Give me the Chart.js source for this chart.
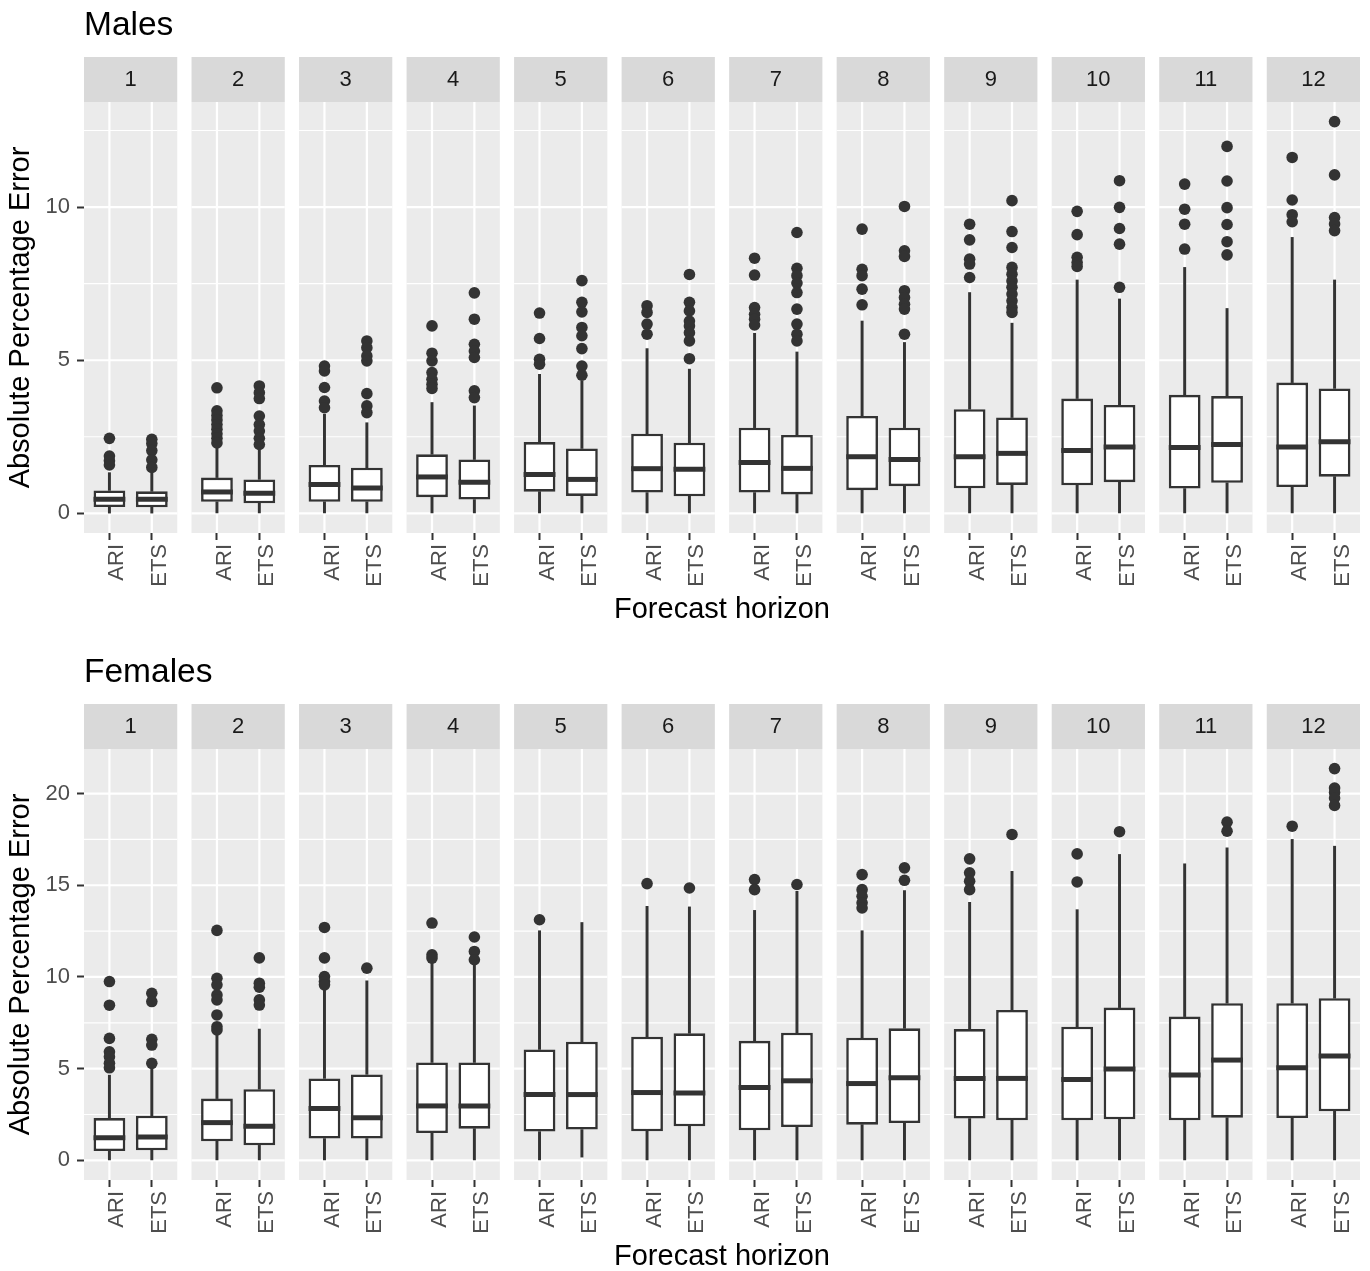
<!DOCTYPE html>
<html>
<head>
<meta charset="utf-8">
<script src="https://cdn.jsdelivr.net/npm/chart.js@4.4.1/dist/chart.umd.min.js"></script>
<style>
  html, body { margin: 0; padding: 0; background: #ffffff; overflow: hidden; }
  canvas { position: absolute; left: 0; }
  #males { top: 0; }
  #females { top: 647px; }
</style>
</head>
<body>
<canvas id="males" width="1370" height="647"></canvas>
<canvas id="females" width="1370" height="647"></canvas>
<script>
// Forecast horizons (facets) and the two methods compared in each facet
const HORIZONS = [1, 2, 3, 4, 5, 6, 7, 8, 9, 10, 11, 12];
const METHODS = ['ARI', 'ETS'];

// Box statistics per horizon: [lower whisker, Q1, median, Q3, upper whisker]
const MALES_ARI = [
  [0.01, 0.21, 0.46, 0.75, 1.33], [0.0, 0.38, 0.70, 1.17, 2.15], [0.0, 0.38, 0.94, 1.58, 3.24],
  [0.0, 0.53, 1.19, 1.93, 3.62], [0.0, 0.71, 1.27, 2.33, 4.54], [0.0, 0.68, 1.46, 2.60, 5.38],
  [0.0, 0.68, 1.66, 2.80, 5.88], [0.0, 0.76, 1.85, 3.18, 6.28], [0.0, 0.82, 1.85, 3.40, 7.21],
  [0.0, 0.92, 2.05, 3.75, 7.62], [0.0, 0.81, 2.15, 3.87, 8.03], [0.0, 0.86, 2.17, 4.27, 9.01]
];
const MALES_ETS = [
  [0.01, 0.20, 0.46, 0.72, 1.33], [0.0, 0.33, 0.66, 1.11, 2.15], [0.0, 0.38, 0.83, 1.49, 2.96],
  [0.0, 0.45, 1.02, 1.76, 3.51], [0.0, 0.57, 1.11, 2.12, 4.32], [0.0, 0.56, 1.44, 2.31, 4.71],
  [0.0, 0.62, 1.47, 2.56, 5.27], [0.0, 0.89, 1.76, 2.80, 5.58], [0.0, 0.93, 1.96, 3.13, 6.21],
  [0.0, 1.02, 2.17, 3.54, 7.00], [0.0, 1.00, 2.25, 3.83, 6.69], [0.0, 1.20, 2.34, 4.08, 7.62]
];
// Outlying observations per horizon
const MALES_ARI_OUT = [
  [2.45, 1.87, 1.72, 1.58],
  [4.1, 3.35, 3.2, 3.05, 2.9, 2.75, 2.6, 2.45, 2.3],
  [4.81, 4.65, 4.11, 3.67, 3.45],
  [6.12, 5.23, 4.98, 4.6, 4.38, 4.22, 4.08],
  [6.54, 5.71, 5.03, 4.87],
  [6.78, 6.56, 6.18, 5.85],
  [8.33, 7.78, 6.72, 6.5, 6.34, 6.15],
  [9.28, 7.97, 7.76, 7.32, 6.81],
  [9.44, 8.93, 8.3, 8.14, 7.7],
  [9.86, 9.1, 8.36, 8.19, 8.06],
  [10.75, 9.93, 9.44, 8.63],
  [11.62, 10.23, 9.75, 9.52]
];
const MALES_ETS_OUT = [
  [2.42, 2.28, 2.05, 1.75, 1.5],
  [4.16, 3.94, 3.75, 3.18, 2.9, 2.69, 2.45, 2.25],
  [5.63, 5.41, 5.14, 4.98, 3.91, 3.51, 3.29],
  [7.2, 6.34, 5.52, 5.3, 5.09, 4.0, 3.78],
  [7.6, 6.89, 6.58, 6.07, 5.8, 5.38, 4.81, 4.51],
  [7.8, 6.89, 6.61, 6.28, 6.12, 5.9, 5.63, 5.05],
  [9.17, 8.0, 7.76, 7.52, 7.21, 6.67, 6.18, 5.85, 5.63],
  [10.02, 8.57, 8.39, 7.27, 7.05, 6.83, 6.67, 5.85],
  [10.21, 9.2, 8.68, 8.03, 7.81, 7.59, 7.38, 7.16, 6.94, 6.72, 6.56],
  [10.86, 9.99, 9.3, 8.79, 7.38],
  [11.98, 10.85, 9.98, 9.43, 8.87, 8.44],
  [12.79, 11.05, 9.66, 9.45, 9.23]
];

const FEMALES_ARI = [
  [0.0, 0.51, 1.24, 2.31, 4.65], [0.0, 1.04, 2.06, 3.37, 6.83], [0.0, 1.19, 2.83, 4.47, 9.29],
  [0.0, 1.49, 2.97, 5.34, 10.75], [0.0, 1.57, 3.59, 6.05, 12.52], [0.0, 1.59, 3.70, 6.74, 13.85],
  [0.0, 1.64, 3.97, 6.52, 13.63], [0.0, 1.95, 4.19, 6.69, 12.52], [0.0, 2.28, 4.47, 7.16, 14.07],
  [0.0, 2.19, 4.41, 7.29, 13.67], [0.0, 2.19, 4.65, 7.84, 16.17], [0.0, 2.31, 5.05, 8.57, 17.50]
];
const FEMALES_ETS = [
  [0.0, 0.55, 1.28, 2.44, 5.01], [0.0, 0.82, 1.86, 3.88, 7.16], [0.0, 1.19, 2.33, 4.69, 9.79],
  [0.0, 1.73, 2.97, 5.34, 10.66], [0.18, 1.68, 3.59, 6.47, 12.97], [0.0, 1.86, 3.68, 6.93, 13.82],
  [0.0, 1.82, 4.34, 6.96, 14.67], [0.0, 2.04, 4.50, 7.20, 14.71], [0.0, 2.19, 4.47, 8.20, 15.76],
  [0.0, 2.24, 4.98, 8.33, 16.68], [0.0, 2.33, 5.47, 8.57, 17.04], [0.0, 2.68, 5.69, 8.84, 17.13]
];
const FEMALES_ARI_OUT = [
  [9.75, 8.46, 6.65, 5.92, 5.65, 5.3, 5.05],
  [12.54, 9.93, 9.57, 9.02, 8.75, 7.93, 7.29, 7.11],
  [12.7, 11.04, 10.02, 9.75, 9.57],
  [12.94, 11.21, 11.03],
  [13.12],
  [15.09],
  [15.31, 14.76],
  [15.58, 14.76, 14.4, 14.04, 13.76],
  [16.44, 15.68, 15.22, 14.76],
  [16.71, 15.18],
  [],
  [18.22]
];
const FEMALES_ETS_OUT = [
  [9.11, 8.66, 6.6, 6.29, 5.29],
  [11.04, 9.66, 9.44, 8.75, 8.47],
  [10.48],
  [12.18, 11.39, 10.94],
  [],
  [14.85],
  [15.04],
  [15.95, 15.27],
  [17.77],
  [17.92],
  [18.44, 17.95],
  [21.36, 20.3, 20.05, 19.75, 19.35]
];

const MALES_Y_TICKS = [0, 5, 10];
const FEMALES_Y_TICKS = [0, 5, 10, 15, 20];

// Layout of the facet strip along the shared x scale:
// each facet spans 2.2 units (two boxes at 1 and 2 with 0.6 expansion), facets are STEP apart.
const STEP = 2.537;
const BOX_WIDTH = 0.75;
const FONT = '"Liberation Sans", Arial, Helvetica, sans-serif';
const INK = '#333333';

function boxX(k, j) { return k * STEP + 1 + j; }

function buildPanel(canvasId, title, ariStats, etsStats, ariOut, etsOut, yTicks) {
  const stats = [ariStats, etsStats];
  const outs = [ariOut, etsOut];
  const boxes = [], whiskers = [], medians = [], outliers = [], tickPos = [];
  let lo = Infinity, hi = -Infinity;

  HORIZONS.forEach((h, k) => {
    METHODS.forEach((m, j) => {
      const [wLo, q1, med, q3, wHi] = stats[j][k];
      const x = boxX(k, j);
      tickPos.push(x);
      boxes.push({ x, y: [q1, q3] });
      whiskers.push({ x, y: [wLo, q1] }, { x, y: [q3, wHi] });
      medians.push({ x, y: med });
      outs[j][k].forEach(v => outliers.push({ x, y: v }));
      lo = Math.min(lo, wLo, ...outs[j][k]);
      hi = Math.max(hi, wHi, ...outs[j][k]);
    });
  });
  const expand = (hi - lo) * 0.05;
  const yMin = lo - expand, yMax = hi + expand;

  const facetPlugin = {
    id: 'facets',
    beforeDatasetsDraw(chart) {
      const { ctx, chartArea: a, scales: { x, y } } = chart;
      const step = yTicks[1] - yTicks[0];
      const minor = [];
      yTicks.forEach(t => {
        [t - step / 2, t + step / 2].forEach(v => {
          if (v > yMin && v < yMax && !minor.includes(v)) minor.push(v);
        });
      });
      ctx.save();
      HORIZONS.forEach((h, k) => {
        const left = x.getPixelForValue(k * STEP + 0.4);
        const right = x.getPixelForValue(k * STEP + 2.6);
        // panel background
        ctx.fillStyle = '#EBEBEB';
        ctx.fillRect(left, a.top, right - left, a.bottom - a.top);
        ctx.strokeStyle = '#FFFFFF';
        // minor horizontal grid
        ctx.lineWidth = 1.1;
        minor.forEach(v => {
          const py = y.getPixelForValue(v);
          ctx.beginPath(); ctx.moveTo(left, py); ctx.lineTo(right, py); ctx.stroke();
        });
        // major horizontal grid
        ctx.lineWidth = 2.2;
        yTicks.forEach(v => {
          const py = y.getPixelForValue(v);
          ctx.beginPath(); ctx.moveTo(left, py); ctx.lineTo(right, py); ctx.stroke();
        });
        // vertical grid at each method
        METHODS.forEach((m, j) => {
          const px = x.getPixelForValue(boxX(k, j));
          ctx.beginPath(); ctx.moveTo(px, a.top); ctx.lineTo(px, a.bottom); ctx.stroke();
        });
        // facet strip
        ctx.fillStyle = '#D9D9D9';
        ctx.fillRect(left, a.top - 45, right - left, 45);
        ctx.fillStyle = '#1A1A1A';
        ctx.font = '22px ' + FONT;
        ctx.textAlign = 'center';
        ctx.textBaseline = 'middle';
        ctx.fillText(String(h), (left + right) / 2, a.top - 22);
      });
      // panel title
      ctx.fillStyle = '#000000';
      ctx.font = '33.5px ' + FONT;
      ctx.textAlign = 'left';
      ctx.textBaseline = 'alphabetic';
      ctx.fillText(title, a.left, a.top - 67);
      ctx.restore();
    }
  };

  const halfBoxPx = ctx => {
    const s = ctx.chart.scales.x;
    return s.getPixelForValue(BOX_WIDTH / 2) - s.getPixelForValue(0);
  };

  return new Chart(document.getElementById(canvasId), {
    type: 'bar',
    data: {
      datasets: [
        { // whiskers
          data: whiskers, order: 4, grouped: false, barThickness: 2.3,
          backgroundColor: INK, borderWidth: 0
        },
        { // boxes from Q1 to Q3
          data: boxes, order: 3, grouped: false,
          barPercentage: BOX_WIDTH, categoryPercentage: 1,
          backgroundColor: '#FFFFFF', borderColor: INK, borderWidth: 2.6, borderSkipped: false
        },
        { // outliers
          type: 'scatter', data: outliers, order: 2,
          pointRadius: 5.8, pointStyle: 'circle', backgroundColor: INK, borderWidth: 0
        },
        { // medians
          type: 'scatter', data: medians, order: 1,
          pointStyle: 'line', pointRadius: halfBoxPx, borderColor: INK, borderWidth: 5
        }
      ]
    },
    options: {
      responsive: false,
      animation: false,
      devicePixelRatio: 1,
      events: [],
      layout: { padding: { top: 102, right: 10, left: 0, bottom: 0 } },
      plugins: { legend: { display: false }, tooltip: { enabled: false } },
      scales: {
        x: {
          type: 'linear',
          offset: false,
          min: 0.4,
          max: (HORIZONS.length - 1) * STEP + 2.6,
          afterBuildTicks: s => { s.ticks = tickPos.map(v => ({ value: v })); },
          afterFit: s => { s.height = 114; },
          border: { display: false },
          grid: { drawOnChartArea: false, offset: false, tickLength: 7, tickWidth: 2, tickColor: INK },
          ticks: {
            autoSkip: false, minRotation: 90, maxRotation: 90, padding: 4, labelOffset: 8,
            color: '#4D4D4D', font: { family: FONT, size: 22 },
            callback: (v, i) => METHODS[i % METHODS.length]
          },
          title: {
            display: true, text: 'Forecast horizon', color: '#000000',
            font: { family: FONT, size: 29 }, padding: { top: 4, bottom: 20 }
          }
        },
        y: {
          type: 'linear',
          min: yMin,
          max: yMax,
          afterBuildTicks: s => { s.ticks = yTicks.map(v => ({ value: v })); },
          afterFit: s => { s.width = 84; },
          border: { display: false },
          grid: { drawOnChartArea: false, tickLength: 7, tickWidth: 2, tickColor: INK },
          ticks: {
            padding: 7, color: '#4D4D4D', font: { family: FONT, size: 22 },
            callback: v => String(v)
          },
          title: {
            display: true, text: 'Absolute Percentage Error', color: '#000000',
            font: { family: FONT, size: 29 }, padding: { top: 4, bottom: 0 }
          }
        }
      }
    },
    plugins: [facetPlugin]
  });
}

buildPanel('males', 'Males', MALES_ARI, MALES_ETS, MALES_ARI_OUT, MALES_ETS_OUT, MALES_Y_TICKS);
buildPanel('females', 'Females', FEMALES_ARI, FEMALES_ETS, FEMALES_ARI_OUT, FEMALES_ETS_OUT, FEMALES_Y_TICKS);
</script>
</body>
</html>
